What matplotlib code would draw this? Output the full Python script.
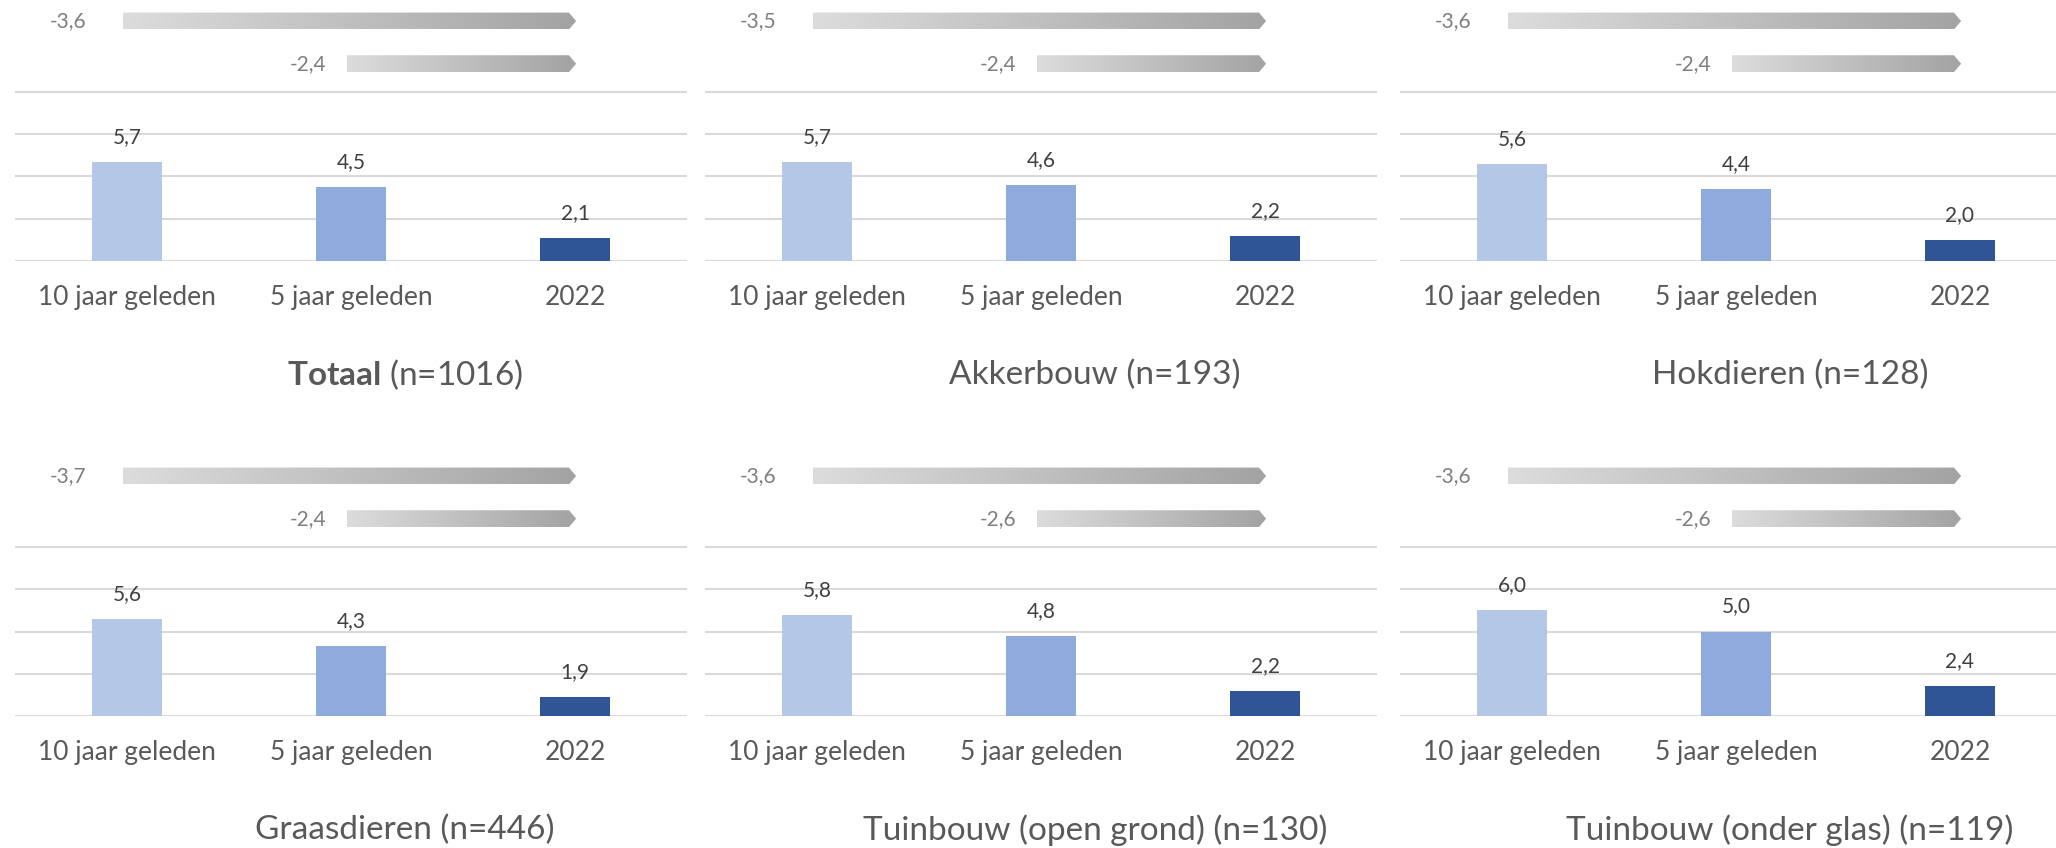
import matplotlib
matplotlib.use('Agg')
import matplotlib.pyplot as plt
import numpy as np
from matplotlib.colors import LinearSegmentedColormap
from matplotlib.patches import Polygon

# lettertype (Calibri-achtig)
plt.rcParams['font.family'] = ['Lato', 'DejaVu Sans']
plt.rcParams['mathtext.fontset'] = 'custom'
plt.rcParams['mathtext.rm'] = 'Lato'
plt.rcParams['mathtext.bf'] = 'Lato:bold'

# ------------------------------------------------------------
# data
# ------------------------------------------------------------
categories = ['10 jaar geleden', '5 jaar geleden', '2022']
groups = ['Totaal', 'Akkerbouw', 'Hokdieren',
          'Graasdieren', 'Tuinbouw (open grond)', 'Tuinbouw (onder glas)']
group_n = [1016, 193, 128, 446, 130, 119]
val_10jr = [5.7, 5.7, 5.6, 5.6, 5.8, 6.0]
val_5jr = [4.5, 4.6, 4.4, 4.3, 4.8, 5.0]
val_2022 = [2.1, 2.2, 2.0, 1.9, 2.2, 2.4]
diff_10jr = [-3.6, -3.5, -3.6, -3.7, -3.6, -3.6]
diff_5jr = [-2.4, -2.4, -2.4, -2.4, -2.6, -2.6]

bar_colors = ['#B4C7E7', '#8FAADC', '#2F5597']
grad_cmap = LinearSegmentedColormap.from_list('pijl', ['#DCDCDC', '#A3A3A3'])

# ------------------------------------------------------------
# layout (pixels)
# ------------------------------------------------------------
W, H = 2056, 848
fig = plt.figure(figsize=(W / 100, H / 100), dpi=100)

col_left = [15, 705, 1400]
row_base = [261, 716]
ax_w = 672
px_per_unit = 169 / 8
y_min, y_max = 1, 13.3
ax_h = (y_max - y_min) * px_per_unit


def nl(v):
    return f'{v:.1f}'.replace('.', ',')


def pijl(ax, x0, x1, yc, dikte=0.8, tip=0.032):
    """grijze pijl met kleurverloop"""
    grad = np.linspace(0, 1, 256).reshape(1, -1)
    im = ax.imshow(grad, extent=(x0, x1, yc - dikte / 2, yc + dikte / 2),
                   aspect='auto', cmap=grad_cmap, origin='lower', zorder=3,
                   interpolation='bilinear')
    poly = Polygon([(x0, yc - dikte / 2), (x1 - tip, yc - dikte / 2), (x1, yc),
                    (x1 - tip, yc + dikte / 2), (x0, yc + dikte / 2)],
                   closed=True, transform=ax.transData)
    im.set_clip_path(poly)


x = np.arange(len(categories))

for i, name in enumerate(groups):
    r, c = divmod(i, 3)
    left = col_left[c] / W
    bottom = (H - row_base[r]) / H
    ax = fig.add_axes([left, bottom, ax_w / W, ax_h / H])

    vals = [val_10jr[i], val_5jr[i], val_2022[i]]
    ax.bar(x, vals, width=0.31, color=bar_colors, zorder=2)
    for xi, v in zip(x, vals):
        ax.annotate(nl(v), (xi, v), xytext=(0, 18), textcoords='offset points',
                    ha='center', va='center', fontsize=15, color='#404040')

    # pijlen met verschil t.o.v. 2022
    for start, d, yc, gap in [(x[0], diff_10jr[i], 12.36, 0.16),
                              (x[1], diff_5jr[i], 10.34, 0.09)]:
        x0 = start - 0.02
        pijl(ax, x0, x[2] + 0.005, yc)
        ax.text(x0 - gap, yc, nl(d), ha='right', va='center',
                fontsize=15, color='#7F7F7F')

    ax.set_xlim(-0.5, 2.5)
    ax.set_ylim(y_min, y_max)
    ax.set_yticks([1, 3, 5, 7, 9])
    ax.set_yticklabels([])
    ax.grid(axis='y', color='#D9D9D9', linewidth=1.5)
    ax.set_axisbelow(True)
    for s in ax.spines.values():
        s.set_visible(False)
    ax.set_xticks(x, categories)
    ax.tick_params(axis='both', length=0)
    ax.tick_params(axis='x', pad=17, labelsize=19, labelcolor='#595959')

    if name == 'Totaal':
        title = r'$\bf{Totaal}$' + f' (n={group_n[i]})'
    else:
        title = f'{name} (n={group_n[i]})'
    ax.text(0.58, 1 - 114 / px_per_unit, title, transform=ax.get_yaxis_transform(),
            ha='center', va='center', fontsize=24, color='#595959')

fig.savefig('out.png', dpi=100)
